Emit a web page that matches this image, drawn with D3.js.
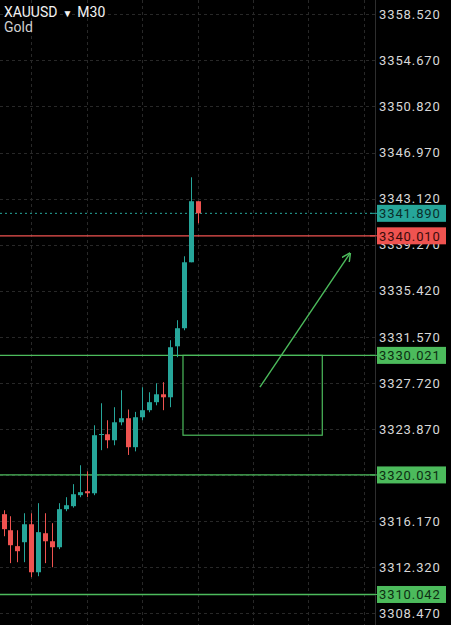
<!DOCTYPE html>
<html>
<head>
<meta charset="utf-8">
<script src="https://cdn.jsdelivr.net/npm/d3@7"></script>
<style>
  html, body { margin: 0; background: #000; overflow: hidden; }
  svg { display: block; }
</style>
</head>
<body>
<div id="chart"></div>
<script>
// candle data, oldest first (XAUUSD M30)
var opens  = [3316.75, 3315.41, 3314.08, 3314.41, 3315.91, 3311.90, 3315.16, 3314.49, 3313.99, 3317.17,
              3317.42, 3318.34, 3318.67, 3318.50, 3323.40, 3323.43, 3322.93, 3324.43, 3324.77, 3322.35,
              3324.85, 3325.44, 3326.11, 3326.77, 3326.52, 3330.78, 3332.29, 3337.80, 3342.90];
var highs  = [3317.08, 3316.58, 3315.41, 3316.83, 3316.83, 3317.67, 3316.83, 3316.00, 3317.67, 3318.17,
              3319.26, 3320.84, 3320.34, 3324.18, 3326.02, 3324.60, 3325.69, 3327.11, 3325.50, 3325.30,
              3327.36, 3326.94, 3327.69, 3327.78, 3331.29, 3332.96, 3338.30, 3344.90, 3342.90];
var lows   = [3314.91, 3312.66, 3312.74, 3312.74, 3311.49, 3311.57, 3312.66, 3312.32, 3313.83, 3317.00,
              3317.30, 3318.17, 3318.17, 3318.34, 3322.10, 3322.26, 3322.51, 3324.18, 3321.70, 3322.00,
              3324.60, 3325.27, 3325.85, 3325.44, 3325.69, 3329.87, 3332.12, 3337.80, 3341.06];
var closes = [3315.50, 3314.16, 3313.66, 3315.91, 3311.90, 3315.25, 3314.49, 3313.99, 3317.17, 3317.50,
              3318.42, 3318.59, 3318.50, 3323.35, 3323.45, 3322.93, 3324.43, 3324.77, 3322.35, 3324.85,
              3325.44, 3326.11, 3326.77, 3326.52, 3330.70, 3332.29, 3337.80, 3342.90, 3341.89];

// price scale ticks
var tickValues = [3358.52, 3354.67, 3350.82, 3346.97, 3343.12, 3339.27, 3335.42, 3331.57,
                  3327.72, 3323.87, 3320.02, 3316.17, 3312.32, 3308.47];
// vertical grid at bar index
var timeGrid = [4, 12, 20, 28, 36, 44, 52];

// horizontal levels drawn on the chart
var levelPrices = [3330.021, 3320.031, 3310.042];
var lastPrice = 3341.89;
var bidPrice = 3340.01;

// annotation: box [index0, index1, priceTop, priceBottom], arrow [[i,p],[i,p]]
var boxArea = [25.9, 46.0, 3330.021, 3323.35];
var arrowPts = [[37.0, 3327.36], [50.0, 3338.55]];

var W = 451, H = 625, plotW = 375;
var teal = "#26a69a", red = "#ef5350", green = "#4cbb5c";

var x = d3.scaleLinear().domain([0, 52]).range([3.5, 3.5 + 6.93 * 52]);
var y = d3.scaleLinear().domain([3308.47, 3358.52]).range([613.3, 14.3]);

var svg = d3.select("#chart").append("svg")
    .attr("width", W)
    .attr("height", H)
    .style("background", "#000");

// grid
svg.append("g").selectAll("line")
    .data(tickValues)
  .enter().append("line")
    .attr("x1", 0).attr("x2", plotW)
    .attr("y1", function(d) { return Math.round(y(d)) + 0.5; })
    .attr("y2", function(d) { return Math.round(y(d)) + 0.5; })
    .attr("stroke", "#282828")
    .attr("stroke-dasharray", "3,3");

svg.append("g").selectAll("line")
    .data(timeGrid)
  .enter().append("line")
    .attr("x1", function(d) { return Math.round(x(d)) + 0.5; })
    .attr("x2", function(d) { return Math.round(x(d)) + 0.5; })
    .attr("y1", 0).attr("y2", H)
    .attr("stroke", "#282828")
    .attr("stroke-dasharray", "3,3");

// price axis separator
svg.append("line")
    .attr("x1", plotW + 0.5).attr("x2", plotW + 0.5)
    .attr("y1", 0).attr("y2", H)
    .attr("stroke", "#2e2e2e");

// levels
svg.append("g").selectAll("line")
    .data(levelPrices)
  .enter().append("line")
    .attr("x1", 0).attr("x2", plotW)
    .attr("y1", function(d) { return y(d); })
    .attr("y2", function(d) { return y(d); })
    .attr("stroke", green)
    .attr("stroke-width", 1.3);

svg.append("line")
    .attr("x1", 0).attr("x2", plotW)
    .attr("y1", y(bidPrice)).attr("y2", y(bidPrice))
    .attr("stroke", red)
    .attr("stroke-width", 1.3);

svg.append("line")
    .attr("x1", 0).attr("x2", plotW)
    .attr("y1", y(lastPrice)).attr("y2", y(lastPrice))
    .attr("stroke", teal)
    .attr("stroke-dasharray", "2,3");

// box + arrow annotation
svg.append("rect")
    .attr("x", x(boxArea[0]))
    .attr("y", y(boxArea[2]))
    .attr("width", x(boxArea[1]) - x(boxArea[0]))
    .attr("height", y(boxArea[3]) - y(boxArea[2]))
    .attr("fill", "none")
    .attr("stroke", green)
    .attr("stroke-width", 1.2);

svg.append("defs").append("marker")
    .attr("id", "head")
    .attr("viewBox", "0 0 10 10")
    .attr("refX", 9).attr("refY", 5)
    .attr("markerWidth", 9).attr("markerHeight", 9)
    .attr("markerUnits", "userSpaceOnUse")
    .attr("orient", "auto")
  .append("path")
    .attr("d", "M0,0 L10,5 L0,10")
    .attr("fill", "none")
    .attr("stroke", green)
    .attr("stroke-width", 1.6);

svg.append("line")
    .attr("x1", x(arrowPts[0][0])).attr("y1", y(arrowPts[0][1]))
    .attr("x2", x(arrowPts[1][0])).attr("y2", y(arrowPts[1][1]))
    .attr("stroke", green)
    .attr("stroke-width", 1.4)
    .attr("marker-end", "url(#head)");

// candles
var idx = d3.range(opens.length);
var candle = svg.append("g").selectAll("g")
    .data(idx)
  .enter().append("g")
    .attr("fill", function(i) { return closes[i] >= opens[i] ? teal : red; })
    .attr("stroke", function(i) { return closes[i] >= opens[i] ? teal : red; });

candle.append("line")
    .attr("x1", function(i) { return Math.round(x(i)) + 0.5; })
    .attr("x2", function(i) { return Math.round(x(i)) + 0.5; })
    .attr("y1", function(i) { return y(highs[i]); })
    .attr("y2", function(i) { return y(lows[i]); })
    .attr("stroke-width", 1);

candle.append("rect")
    .attr("x", function(i) { return Math.round(x(i)) - 2; })
    .attr("width", 5)
    .attr("y", function(i) { return y(Math.max(opens[i], closes[i])); })
    .attr("height", function(i) { return Math.max(1, Math.abs(y(opens[i]) - y(closes[i]))); })
    .attr("stroke", "none");

// price axis labels
svg.append("g").selectAll("text")
    .data(tickValues)
  .enter().append("text")
    .attr("x", 379)
    .attr("y", function(d) { return y(d); })
    .attr("dy", "0.36em")
    .attr("fill", "#d8d8d8")
    .style("font-family", "Roboto, sans-serif")
    .style("font-size", "13px")
    .style("letter-spacing", "0.9px")
    .text(function(d) { return d.toFixed(3); });

// colored price tags
var tags = [
  {p: lastPrice, c: teal, t: "#0b2e2a"},
  {p: bidPrice, c: red, t: "#3a0c0b"},
  {p: levelPrices[0], c: green, t: "#0d2e12"},
  {p: levelPrices[1], c: green, t: "#0d2e12"},
  {p: levelPrices[2], c: green, t: "#0d2e12"}
];
var tag = svg.append("g").selectAll("g")
    .data(tags)
  .enter().append("g");

tag.append("line")
    .attr("x1", 370).attr("x2", 377)
    .attr("y1", function(d) { return y(d.p); })
    .attr("y2", function(d) { return y(d.p); })
    .attr("stroke", function(d) { return d.c; });

tag.append("rect")
    .attr("x", 377)
    .attr("y", function(d) { return y(d.p) - 8.5; })
    .attr("width", 69)
    .attr("height", 17)
    .attr("fill", function(d) { return d.c; });

tag.append("text")
    .attr("x", 379)
    .attr("y", function(d) { return y(d.p); })
    .attr("dy", "0.36em")
    .attr("fill", function(d) { return d.t; })
    .style("font-family", "Roboto, sans-serif")
    .style("font-size", "13px")
    .style("letter-spacing", "0.9px")
    .text(function(d) { return d.p.toFixed(3); });

// title
var title = svg.append("text")
    .attr("x", 4).attr("y", 17)
    .attr("fill", "#f2f2f2")
    .style("font-family", "Roboto, sans-serif")
    .style("font-size", "14px");
title.append("tspan").text("XAUUSD");
title.append("tspan").attr("dx", 5).style("font-size", "10px").text("▼");
title.append("tspan").attr("dx", 5).text("M30");

svg.append("text")
    .attr("x", 4).attr("y", 32)
    .attr("fill", "#d0d0d0")
    .style("font-family", "Roboto, sans-serif")
    .style("font-size", "14px")
    .text("Gold");
</script>
</body>
</html>
